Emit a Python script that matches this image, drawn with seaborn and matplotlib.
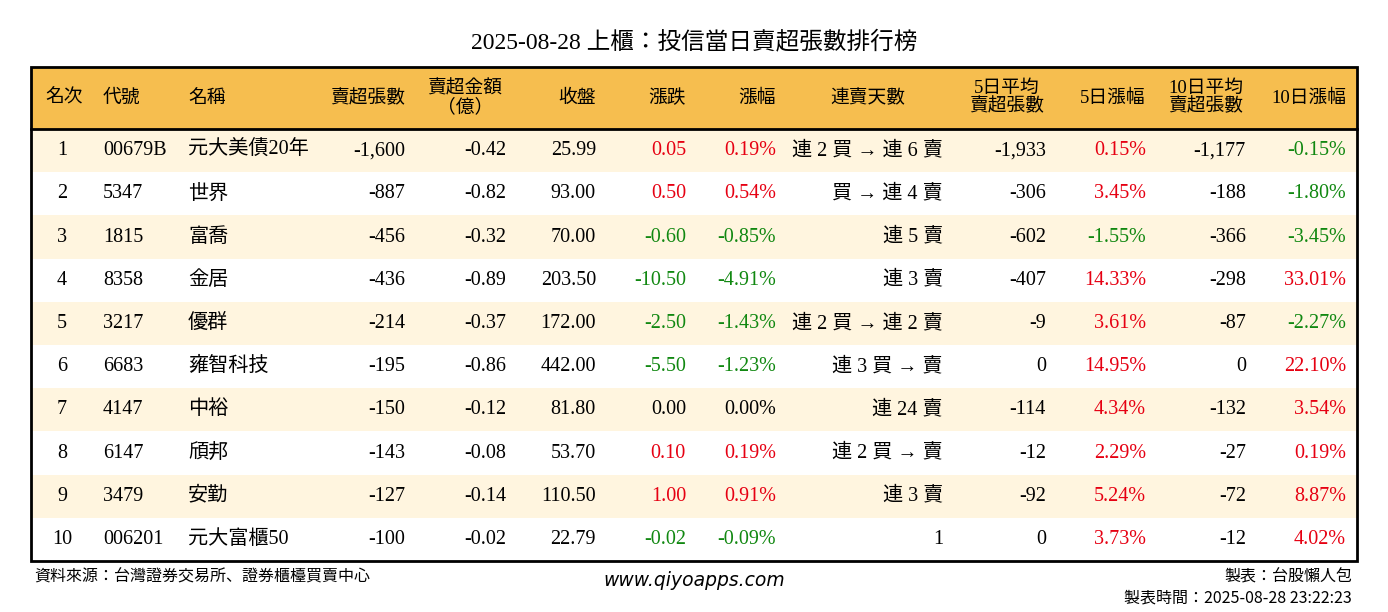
import numpy as np
import matplotlib
matplotlib.use("Agg")
import matplotlib.pyplot as plt
import seaborn as sns
from matplotlib.colors import ListedColormap

FONT = ['Liberation Serif', 'Noto Sans CJK JP', 'Noto Sans CJK TC', 'Noto Sans CJK SC', 'Noto Sans CJK KR']
SANS = ['Noto Sans CJK JP', 'Noto Sans CJK TC']
plt.rcParams['font.family'] = FONT

title = "2025-08-28 上櫃：投信當日賣超張數排行榜"
headers = ["名次", "代號", "名稱", "賣超張數", "賣超金額\n（億）", "收盤", "漲跌", "漲幅",
           "連賣天數", "5日平均\n賣超張數", "5日漲幅", "10日平均\n賣超張數", "10日漲幅"]

rank = [1, 2, 3, 4, 5, 6, 7, 8, 9, 10]
codes = ["00679B", "5347", "1815", "8358", "3217", "6683", "4147", "6147", "3479", "006201"]
names = ["元大美債20年", "世界", "富喬", "金居", "優群", "雍智科技", "中裕", "頎邦", "安勤", "元大富櫃50"]
sell_lots = [-1600, -887, -456, -436, -214, -195, -150, -143, -127, -100]
sell_amt = [-0.42, -0.82, -0.32, -0.89, -0.37, -0.86, -0.12, -0.08, -0.14, -0.02]
close = [25.99, 93.00, 70.00, 203.50, 172.00, 442.00, 81.80, 53.70, 110.50, 22.79]
change = [0.05, 0.50, -0.60, -10.50, -2.50, -5.50, 0.00, 0.10, 1.00, -0.02]
change_pct = [0.19, 0.54, -0.85, -4.91, -1.43, -1.23, 0.00, 0.19, 0.91, -0.09]
streak = ["連 2 買 → 連 6 賣", "買 → 連 4 賣", "連 5 賣", "連 3 賣", "連 2 買 → 連 2 賣",
          "連 3 買 → 賣", "連 24 賣", "連 2 買 → 賣", "連 3 賣", "1"]
avg5 = [-1933, -306, -602, -407, -9, 0, -114, -12, -92, 0]
pct5 = [0.15, 3.45, -1.55, 14.33, 3.61, 14.95, 4.34, 2.29, 5.24, 3.73]
avg10 = [-1177, -188, -366, -298, -87, 0, -132, -27, -72, -12]
pct10 = [-0.15, -1.80, -3.45, 33.01, -2.27, 22.10, 3.54, 0.19, 8.87, 4.02]

RED, GREEN, BLACK = "#E60012", "#118811", "#000000"
HEAD_BG, STRIPE, WHITE = "#F6BE4F", "#FFF5DF", "#FFFFFF"

W, H = 1388, 612
X0, X1, Y0, YH, Y1 = 31, 1357, 67, 129, 561


def sign_color(v):
    return RED if v > 0 else (GREEN if v < 0 else BLACK)


fig = plt.figure(figsize=(W / 100, H / 100), dpi=100)

# body stripes through seaborn heatmap
body = fig.add_axes([X0 / W, 1 - Y1 / H, (X1 - X0) / W, (Y1 - YH) / H])
stripes = np.array([[i % 2] for i in range(len(rank))])
sns.heatmap(stripes, ax=body, cmap=ListedColormap([STRIPE, WHITE]), cbar=False,
            xticklabels=False, yticklabels=False)
body.set_axis_off()

ax = fig.add_axes([0, 0, 1, 1])
ax.set_xlim(0, W)
ax.set_ylim(H, 0)
ax.set_axis_off()
ax.patch.set_alpha(0)

ax.add_patch(plt.Rectangle((X0, Y0), X1 - X0, YH - Y0, color=HEAD_BG, zorder=0))
ax.add_patch(plt.Rectangle((X0, Y0), X1 - X0, Y1 - Y0, fill=False, lw=2, ec="black", zorder=3))
ax.plot([X0, X1], [YH, YH], color="black", lw=2, zorder=3)

ax.text(W / 2, 42, title, ha="center", va="center", fontsize=17)

# column anchor x and alignment
cols = [(62, "center"), (103, "left"), (188, "left"), (405, "right"), (506, "right"),
        (596, "right"), (686, "right"), (776, "right"), (943, "right"), (1046, "right"),
        (1146, "right"), (1246, "right"), (1346, "right")]
head_pos = [(64, "center"), (103, "left"), (188, "left"), (405, "right"), (465, "center"),
            (596, "right"), (686, "right"), (776, "right"), (868, "center"), (1007, "center"),
            (1146, "right"), (1206, "center"), (1346, "right")]

hy = (Y0 + YH) / 2
for (x, ha), h in zip(head_pos, headers):
    ax.text(x, hy, h, ha=ha, va="center", fontsize=13.5, linespacing=1.05)

rh = (Y1 - YH) / len(rank)
for i in range(len(rank)):
    y = YH + rh * (i + 0.5)
    cells = [
        (str(rank[i]), BLACK), (codes[i], BLACK), (names[i], BLACK),
        (f"{sell_lots[i]:,}", BLACK), (f"{sell_amt[i]:.2f}", BLACK), (f"{close[i]:.2f}", BLACK),
        (f"{change[i]:.2f}", sign_color(change[i])), (f"{change_pct[i]:.2f}%", sign_color(change_pct[i])),
        (streak[i], BLACK), (f"{avg5[i]:,}", BLACK), (f"{pct5[i]:.2f}%", sign_color(pct5[i])),
        (f"{avg10[i]:,}", BLACK), (f"{pct10[i]:.2f}%", sign_color(pct10[i])),
    ]
    for (x, ha), (t, c) in zip(cols, cells):
        ax.text(x, y, t, ha=ha, va="center", fontsize=14.5, color=c)

ax.text(34, 577, "資料來源：台灣證券交易所、證券櫃檯買賣中心", ha="left", va="center",
        fontsize=11.5, family=SANS)
ax.text(694, 580, "www.qiyoapps.com", ha="center", va="center", fontsize=13.5,
        style="italic", family=['DejaVu Sans'])
ax.text(1352, 577, "製表：台股懶人包", ha="right", va="center", fontsize=11.5, family=SANS)
ax.text(1352, 598, "製表時間：2025-08-28 23:22:23", ha="right", va="center", fontsize=11.5,
        family=SANS)

fig.savefig("out.png", dpi=100, facecolor="white")
